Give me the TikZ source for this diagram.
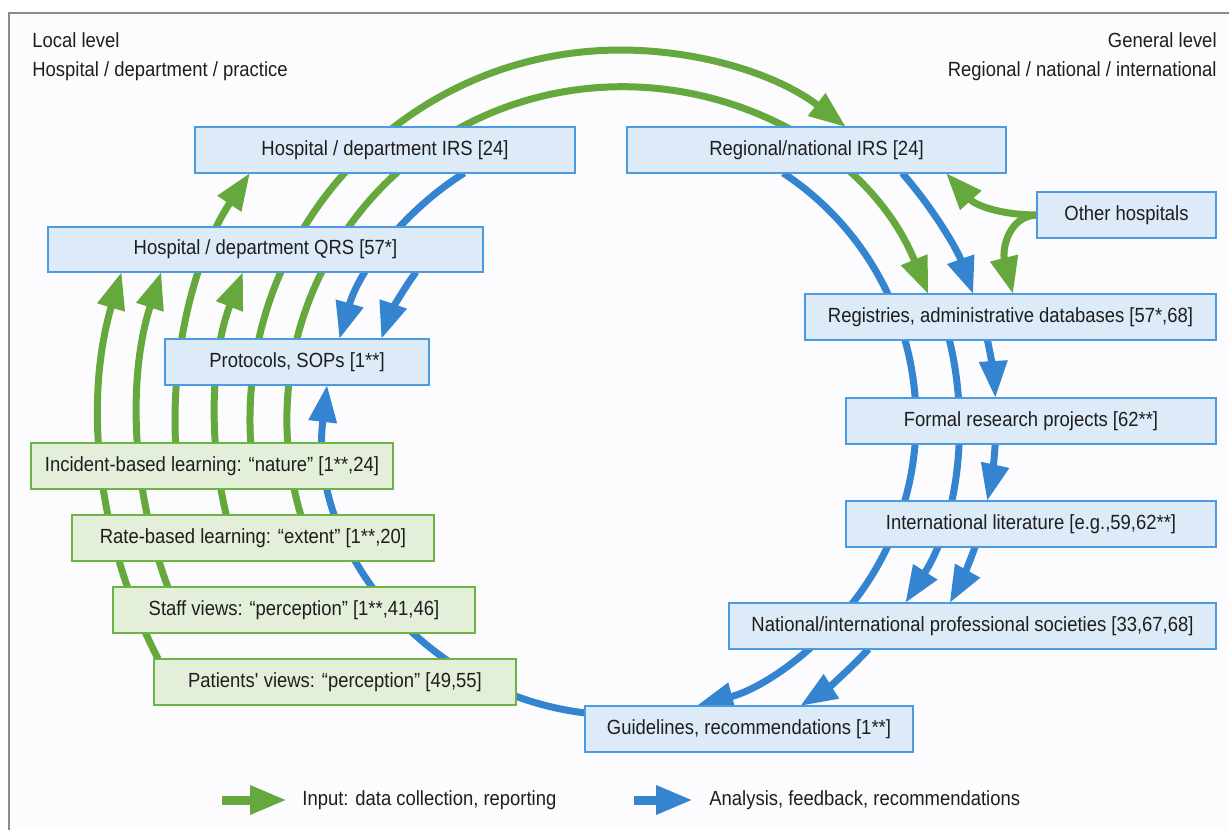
\documentclass[tikz,border=0pt]{standalone}
\usepackage{fontspec}
\setmainfont{Liberation Sans}[FakeStretch=0.9]
\usetikzlibrary{arrows.meta}
\pgfdeclarelayer{back}
\pgfsetlayers{back,main}

\definecolor{flowgreen}{HTML}{65A83D}
\definecolor{flowblue}{HTML}{3584D0}
\definecolor{edgeblue}{HTML}{4A9BE0}
\definecolor{fillblue}{HTML}{DDEAF7}
\definecolor{edgegreen}{HTML}{6DB444}
\definecolor{fillgreen}{HTML}{E4EFD9}
\definecolor{framegray}{HTML}{8C8C8C}
\definecolor{paper}{HTML}{FCFCFE}
\definecolor{ink}{HTML}{1E1E1E}

\tikzset{every picture/.style={line width=0.75pt},
	bluebox/.style={draw=edgeblue, fill=fillblue, line width=1.5pt, minimum height=46pt, inner sep=0pt, outer sep=0pt},
	greenbox/.style={bluebox, draw=edgegreen, fill=fillgreen},
	gflow/.style={color=flowgreen, line width=7pt, -{Triangle[length=37pt,width=27pt]}},
	bflow/.style={gflow, color=flowblue},
	label/.style={inner sep=0pt}}

\begin{document}
\begin{tikzpicture}[x=1pt,y=-1pt,font=\fontsize{20.5pt}{24pt}\selectfont,text=ink]
	\useasboundingbox (0,0) rectangle (1229,830);
	
	% Text Node
	\node (loclvl) [label, anchor=base west] at (32,47) {Local level};
	% Text Node
	\node (locscope) [label, anchor=base west] at (32,76) {Hospital / department / practice};
	% Text Node
	\node (genlvl) [label, anchor=base east] at (1217,47) {General level};
	% Text Node
	\node (genscope) [label, anchor=base east] at (1217,76) {Regional / national / international};
	
	%Shape: Rectangle [local, blue]
	\node (hirs) [bluebox, minimum width=380pt] at (385,150) {Hospital / department IRS [24]};
	\node (qrs) [bluebox, minimum width=435pt, minimum height=45pt] at (265.5,249.5) {Hospital / department QRS [57*]};
	\node (prot) [bluebox, minimum width=264pt] at (297,362) {Protocols, SOPs [1**]};
	%Shape: Rectangle [general, blue]
	\node (rirs) [bluebox, minimum width=379pt] at (816.5,150) {Regional/national IRS [24]};
	\node (other) [bluebox, minimum width=179pt] at (1126.5,215) {Other hospitals};
	\node (reg) [bluebox, minimum width=411pt] at (1010.5,317) {Registries, administrative databases [57*,68]};
	\node (formal) [bluebox, minimum width=370pt] at (1031,421) {Formal research projects [62**]};
	\node (intl) [bluebox, minimum width=370pt] at (1031,524) {International literature [e.g.,59,62**]};
	\node (natl) [bluebox, minimum width=487pt] at (972.5,626) {National/international professional societies [33,67,68]};
	\node (guide) [bluebox, minimum width=328pt] at (749,729) {Guidelines, recommendations [1**]};
	%Shape: Rectangle [green]
	\node (inc) [greenbox, minimum width=362pt] at (212,466) {Incident-based learning: “nature” [1**,24]};
	\node (rate) [greenbox, minimum width=362pt] at (253,538) {Rate-based learning: “extent” [1**,20]};
	\node (staff) [greenbox, minimum width=362pt] at (294,610) {Staff views: “perception” [1**,41,46]};
	\node (pat) [greenbox, minimum width=362pt] at (335,682) {Patients\textquotesingle\ views: “perception” [49,55]};
	
	% Text Node
	\node (ginlab) [label, anchor=west] at (302,800) {Input: data collection, reporting};
	\coordinate (ginkey) at (222,800);
	% Text Node
	\node (bfblab) [label, anchor=west] at (709,800) {Analysis, feedback, recommendations};
	\coordinate (bfbkey) at (634,800);
	
	\begin{pgfonlayer}{back}
	\fill[white] (0,0) rectangle (1229,830);
	\draw[framegray, fill=paper, line width=1.2pt] (9,13) rectangle (1245,845);
	
	%Shape: Arc [input, up the left side]
	\draw[gflow] ([xshift=4.2pt]pat.north west) arc[start angle=152.64, end angle=196.54, radius=520];
	\draw[gflow] ([xshift=54.8pt]staff.north west) arc[start angle=159.73, end angle=197.88, radius=482];
	\draw[gflow] ([xshift=154.3pt]rate.north west) arc[start angle=166.43, end angle=201.43, radius=405];
	\draw[gflow] ([xshift=144.6pt]inc.north west) arc[start angle=177.04, end angle=213.72, radius=445];
	%Shape: Arc [input, over the top]
	\draw[gflow] ([xshift=219.7pt]inc.north west) arc[start angle=176.44, end angle=307.64, radius=370];
	\draw[gflow] ([xshift=228.8pt]rate.north west) arc[start angle=163.42, end angle=337.77, radius=333];
	%Curve Lines [other hospitals]
	\draw[gflow] (other.west) .. controls +(-37,0) and +(29,32) .. ([xshift=319pt]rirs.south west);
	\draw[gflow] (other.west) .. controls +(-29,1) and +(-11,-44) .. ([xshift=208pt]reg.north west);
	
	%Shape: Arc [feedback, down the right side]
	\draw[bflow] ([xshift=156.1pt]rirs.south west) arc[start angle=-56.56, end angle=75.06, radius=296];
	\draw[bflow] ([xshift=275.1pt]rirs.south west) arc[start angle=-41.2, end angle=-19.63, radius=375];
	\draw[bflow] ([xshift=182.4pt]reg.south west) arc[start angle=-12.28, end angle=-3.35, radius=376];
	\draw[bflow] ([xshift=144.4pt]reg.south west) arc[start angle=-13.65, end angle=32.67, radius=339];
	\draw[bflow] ([xshift=149.2pt]formal.south west) arc[start angle=3.66, end angle=12.44, radius=376];
	\draw[bflow] ([xshift=129pt]intl.south west) arc[start angle=19.69, end angle=29.04, radius=377];
	\draw[bflow] ([xshift=139.6pt]natl.south west) arc[start angle=42.65, end angle=57.80, radius=338];
	%Shape: Arc [feedback, back to protocols]
	\draw[bflow] ([yshift=16.1pt]guide.west) arc[start angle=96.81, end angle=186.81, radius=295];
	\draw[bflow] ([xshift=269.2pt]hirs.south west) arc[start angle=237.77, end angle=196.10, radius=292];
	\draw[bflow] ([xshift=368pt]qrs.south west) arc[start angle=215.96, end angle=198.75, radius=252];
	
	%Straight Lines [legend]
	\draw[gflow, line width=9pt] (ginkey) -- ([xshift=-15pt]ginlab.west);
	\draw[bflow, line width=9pt] (bfbkey) -- ([xshift=-16pt]bfblab.west);
	\end{pgfonlayer}
	
\end{tikzpicture}
\end{document}
